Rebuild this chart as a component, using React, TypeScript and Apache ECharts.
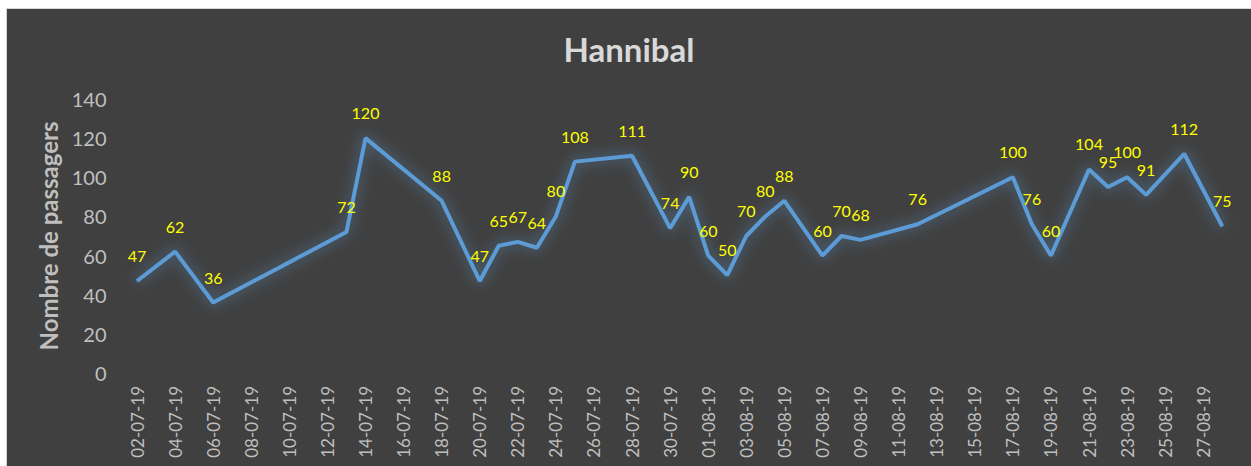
import React, { useEffect, useRef } from "react";
import * as echarts from "echarts";

const chartTitle = "Hannibal";
const yAxisName = "Nombre de passagers";

const pointDates = [
  "02-07-19", "04-07-19", "06-07-19", "13-07-19", "14-07-19", "18-07-19",
  "20-07-19", "21-07-19", "22-07-19", "23-07-19", "24-07-19", "25-07-19",
  "28-07-19", "30-07-19", "31-07-19", "01-08-19", "02-08-19", "03-08-19",
  "04-08-19", "05-08-19", "07-08-19", "08-08-19", "09-08-19", "12-08-19",
  "17-08-19", "18-08-19", "19-08-19", "21-08-19", "22-08-19", "23-08-19",
  "24-08-19", "26-08-19", "28-08-19",
];
const passengers = [
  47, 62, 36, 72, 120, 88,
  47, 65, 67, 64, 80, 108,
  111, 74, 90, 60, 50, 70,
  80, 88, 60, 70, 68, 76,
  100, 76, 60, 104, 95, 100,
  91, 112, 75,
];

// every day of the axis range (02-07-19 .. 28-08-19)
const monthSpans: [string, number, number][] = [
  ["07", 2, 31],
  ["08", 1, 28],
];
const categories: string[] = [];
monthSpans.forEach(([m, from, to]) => {
  for (let d = from; d <= to; d++) {
    categories.push(`${String(d).padStart(2, "0")}-${m}-19`);
  }
});

const yTicks = { min: 0, max: 140, interval: 20 };

const FONT = "Lato, 'Noto Sans', sans-serif";

export default function App() {
  const ref = useRef<HTMLDivElement>(null);
  useEffect(() => {
    if (!ref.current) return;
    const chart = echarts.init(ref.current, undefined, { renderer: "svg" });
    const seriesData = categories.map((c) => {
      const i = pointDates.indexOf(c);
      return i >= 0 ? passengers[i] : null;
    });
    chart.setOption({
      animation: false,
      backgroundColor: "#404040",
      title: {
        text: chartTitle,
        left: "center",
        top: 18,
        textStyle: {
          color: "#d9d9d9",
          fontSize: 33,
          fontWeight: "bold",
          fontFamily: FONT,
        },
      },
      grid: { left: 120.5, right: 19.2, top: 90, bottom: 93, containLabel: false },
      xAxis: {
        type: "category",
        data: categories,
        boundaryGap: true,
        axisLine: { show: false },
        axisTick: { show: false },
        splitLine: { show: false },
        axisLabel: {
          interval: 1,
          rotate: 90,
          margin: 13,
          color: "#bfbfbf",
          fontSize: 17,
          fontFamily: FONT,
        },
      },
      yAxis: {
        type: "value",
        min: yTicks.min,
        max: yTicks.max,
        interval: yTicks.interval,
        name: yAxisName,
        nameLocation: "middle",
        nameGap: 62,
        nameTextStyle: {
          color: "#bfbfbf",
          fontSize: 24,
          fontWeight: "bold",
          fontFamily: FONT,
        },
        axisLine: { show: false },
        axisTick: { show: false },
        splitLine: { show: false },
        axisLabel: {
          margin: 21,
          color: "#bfbfbf",
          fontSize: 20,
          fontFamily: FONT,
        },
      },
      series: [
        {
          type: "line",
          data: seriesData,
          connectNulls: true,
          showAllSymbol: true,
          symbol: "circle",
          symbolSize: 1,
          itemStyle: { color: "#5b9bd5" },
          lineStyle: {
            color: "#5b9bd5",
            width: 4,
            shadowColor: "rgba(91,155,213,0.7)",
            shadowBlur: 14,
          },
          label: {
            show: true,
            position: "top",
            distance: 17,
            color: "#ffff00",
            fontSize: 16,
            fontFamily: FONT,
          },
        },
      ],
    });
    return () => chart.dispose();
  }, []);
  return (
    <div
      style={{
        position: "fixed",
        left: 6,
        top: 8,
        width: 1245,
        height: 458,
        boxSizing: "border-box",
        borderLeft: "1px solid #d4d4d4",
        borderTop: "1px solid #d4d4d4",
        background: "#404040",
      }}
    >
      <div ref={ref} style={{ width: 1244, height: 457 }} />
    </div>
  );
}
